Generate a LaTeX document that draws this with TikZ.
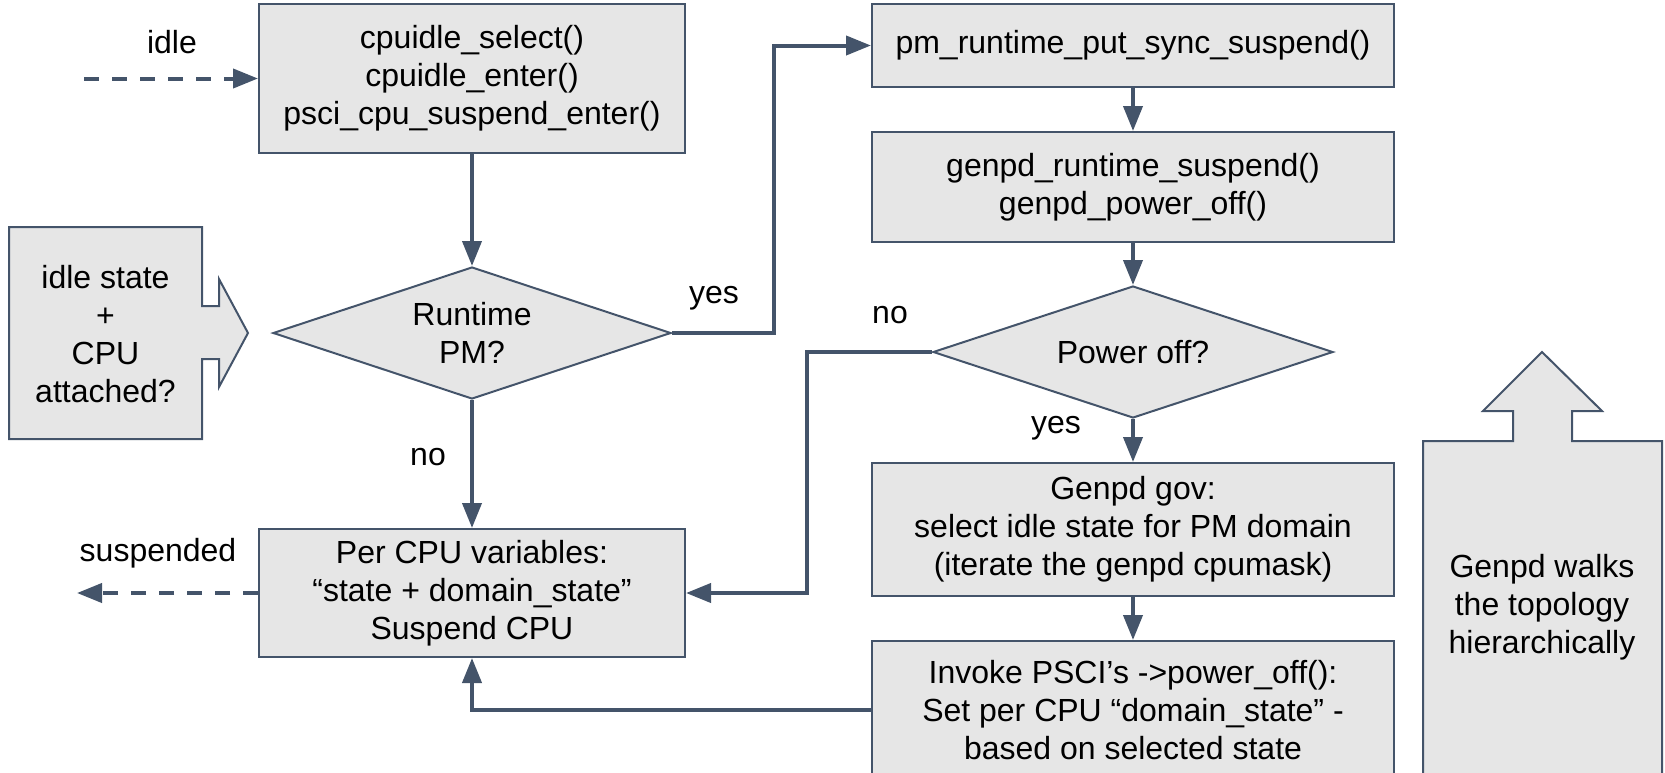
\documentclass[tikz,border=0pt]{standalone}
\usepackage{fontspec}
\setmainfont{Liberation Sans}
\usetikzlibrary{arrows.meta,shapes.geometric}
\definecolor{edge}{HTML}{44546A}
\definecolor{boxfill}{HTML}{E6E6E6}
\begin{document}
\begin{tikzpicture}[x=0.5pt,y=-0.5pt,
  every node/.style={font=\fontsize{16}{19}\selectfont},
  box/.style={draw=edge, line width=1pt, fill=boxfill, align=center, inner sep=0pt},
  decision/.style={diamond, draw=edge, line width=1pt, fill=boxfill, inner sep=0pt},
  blockarrow/.style={draw=edge, line width=1pt, fill=boxfill},
  conn/.style={draw=edge, line width=2pt, -{Triangle[length=12.5pt,width=9.5pt]}},
  dashedconn/.style={conn, dash pattern=on 7.5pt off 6.5pt},
  lbl/.style={inner sep=0pt, align=center},
]
\useasboundingbox (0,0) rectangle (1665,772);
\clip (0,0) rectangle (1665,772);

% left block arrow: idle state + CPU attached?
\draw[blockarrow] (9,227) -- (202,227) -- (202,306) -- (219,306) -- (219,279)
  -- (248,333) -- (219,387) -- (219,359) -- (202,359) -- (202,439) -- (9,439) -- cycle;
\node[lbl] (attach) at (105.5,334) {idle state\\+\\CPU\\attached?};

% right block arrow: walking up the topology
\draw[blockarrow] (1423,441) -- (1513,441) -- (1513,411) -- (1483,411) -- (1542,352)
  -- (1602,411) -- (1572,411) -- (1572,441) -- (1662,441) -- (1662,800) -- (1423,800) -- cycle;
\node[lbl] (walk) at (1542,607) {Genpd walks\\the topology\\hierarchically};

% process boxes
\node[box, minimum width=213pt, minimum height=74.5pt] (sel) at (472,78.5)
  {cpuidle\_select()\\cpuidle\_enter()\\psci\_cpu\_suspend\_enter()};
\node[box, minimum width=261pt, minimum height=41.5pt] (put) at (1133,45.5)
  {pm\_runtime\_put\_sync\_suspend()};
\node[box, minimum width=261pt, minimum height=55pt] (gsus) at (1133,187)
  {genpd\_runtime\_suspend()\\genpd\_power\_off()};
\node[box, minimum width=213pt, minimum height=64pt] (percpu) at (472,593)
  {Per CPU variables:\\“state + domain\_state”\\Suspend CPU};
\node[box, minimum width=261pt, minimum height=66.5pt] (gov) at (1133,529.5)
  {Genpd gov:\\select idle state for PM domain\\(iterate the genpd cpumask)};
\node[box, minimum width=261pt, minimum height=69pt] (psci) at (1133,710)
  {Invoke PSCI’s ->power\_off():\\Set per CPU “domain\_state” -\\based on selected state};

% decisions
\node[decision, minimum width=199pt, minimum height=66pt] (rpm) at (472,333) {};
\node[lbl] (rpmtext) at (rpm.center) {Runtime\\PM?};
\node[decision, minimum width=200pt, minimum height=66pt] (poff) at (1133,352) {};
\node[lbl] (pofftext) at (poff.center) {Power off?};

% labels
\node[lbl] (lidle) at (172,42) {idle};
\node[lbl] (lyes1) at (714,298) {yes};
\node[lbl] (lno1) at (890,315) {no};
\node[lbl] (lno2) at (428,457) {no};
\node[lbl] (lyes2) at (1056,428) {yes};
\node[lbl] (lsusp) at (158,553) {suspended};

% connectors
\coordinate (idlefrom) at (84,78.5);
\coordinate (suspto) at (77,593);
\draw[dashedconn] (idlefrom) -- (sel.west);
\draw[conn] (sel.south) -- (rpm.north);
\draw[conn] (rpm.east) -- ++(102,0) |- (put.west);
\draw[conn] (rpm.south) -- (percpu.north);
\draw[conn] (put.south) -- (gsus.north);
\draw[conn] (gsus.south) -- (poff.north);
\draw[conn] (poff.west) -- ++(-125,0) |- (percpu.east);
\draw[conn] (poff.south) -- (gov.north);
\draw[conn] (gov.south) -- (psci.north);
\draw[conn] (psci.west) -| (percpu.south);
\draw[dashedconn] (percpu.west) -- (suspto);
\end{tikzpicture}
\end{document}
